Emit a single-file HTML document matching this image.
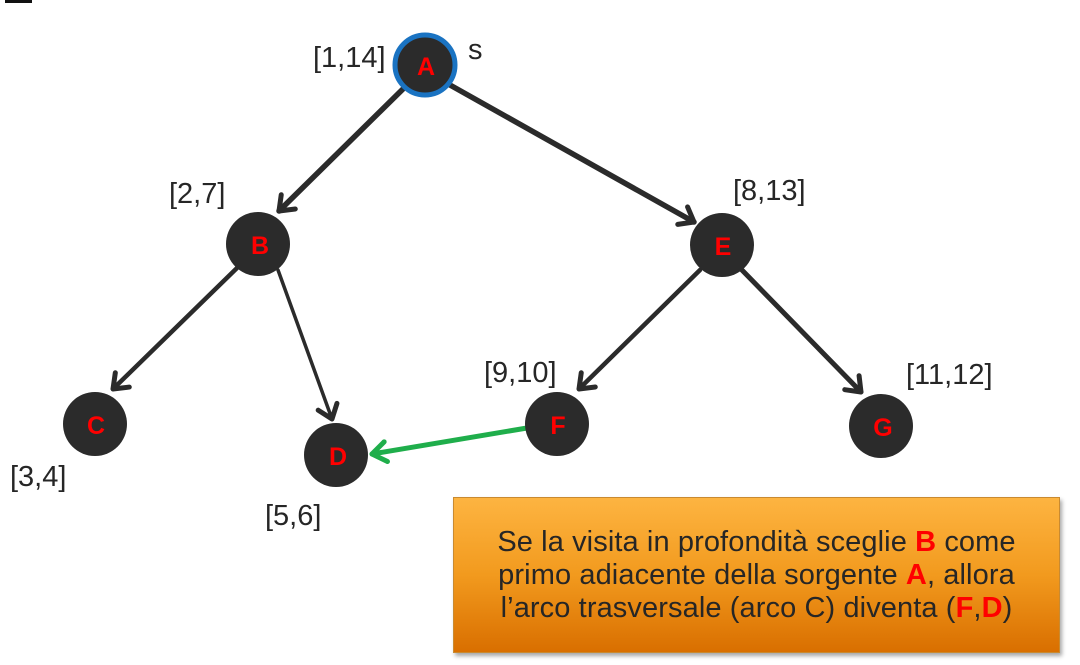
<!DOCTYPE html>
<html><head><meta charset="utf-8"><style>
body{margin:0;width:1080px;height:665px;background:#fff;overflow:hidden;position:relative;font-family:"Liberation Sans",sans-serif}
svg{position:absolute;left:0;top:0}
.box{position:absolute;left:453px;top:497px;width:607px;height:156px;background:linear-gradient(#fdb441,#f29a1e 50%,#d96f00);border:1px solid #c98a30;box-shadow:2px 3px 4px rgba(0,0,0,.35);text-align:center;color:#262626;font-size:29px;line-height:33px;padding-top:28px;box-sizing:border-box;letter-spacing:0.1px}
.r{color:#f00;font-weight:bold}
</style></head><body>
<svg width="1080" height="665" font-family="Liberation Sans, sans-serif">
<defs>
<marker id="ar" viewBox="-20 -20 40 40" refX="0" refY="0" markerWidth="40" markerHeight="40" orient="auto" markerUnits="userSpaceOnUse">
<path d="M-13,-10 L0,0 L-13,10" fill="none" stroke="#2b2b2b" stroke-width="5" stroke-linecap="round" stroke-linejoin="round"/>
</marker>
<marker id="ag" viewBox="-20 -20 40 40" refX="0" refY="0" markerWidth="40" markerHeight="40" orient="auto" markerUnits="userSpaceOnUse">
<path d="M-14,-10 L0,0 L-14,10" fill="none" stroke="#1fae4b" stroke-width="5" stroke-linecap="round" stroke-linejoin="round"/>
</marker>
</defs>
<rect x="5" y="0" width="27" height="3" fill="#111"/>
<g stroke="#2b2b2b" stroke-linecap="round">
<line x1="405" y1="87" x2="279" y2="211" stroke-width="5.5" marker-end="url(#ar)"/>
<line x1="450" y1="85" x2="694" y2="222" stroke-width="5.5" marker-end="url(#ar)"/>
<line x1="237" y1="268" x2="113" y2="389" stroke-width="4.5" marker-end="url(#ar)"/>
<line x1="278" y1="270" x2="332" y2="419" stroke-width="3.5" marker-end="url(#ar)"/>
<line x1="700" y1="270" x2="579" y2="389" stroke-width="4.5" marker-end="url(#ar)"/>
<line x1="740" y1="268" x2="861" y2="392" stroke-width="5" marker-end="url(#ar)"/>
</g>
<line x1="527" y1="428" x2="372" y2="454" stroke="#1fae4b" stroke-width="5" stroke-linecap="round" marker-end="url(#ag)"/>
<g fill="#2b2b2b">
<circle cx="425" cy="65" r="30" stroke="#1a73c2" stroke-width="5"/>
<circle cx="258" cy="244" r="32"/>
<circle cx="95" cy="424" r="32"/>
<circle cx="336" cy="455" r="32"/>
<circle cx="722" cy="245" r="32"/>
<circle cx="557" cy="424" r="32"/>
<circle cx="881" cy="426" r="32"/>
</g>
<g fill="#f00" font-weight="bold" font-size="25" text-anchor="middle">
<text x="426" y="75">A</text><text x="260" y="254">B</text><text x="96" y="434">C</text>
<text x="338" y="465">D</text><text x="723" y="255">E</text><text x="558" y="434">F</text><text x="883" y="436">G</text>
</g>
<g fill="#262626" font-size="29">
<text x="313" y="67">[1,14]</text><text x="468" y="59">s</text>
<text x="169" y="203">[2,7]</text><text x="733" y="200">[8,13]</text>
<text x="484" y="382">[9,10]</text><text x="906" y="384">[11,12]</text>
<text x="10" y="486">[3,4]</text><text x="265" y="525">[5,6]</text>
</g>
</svg>
<div class="box">Se la visita in profondità sceglie <span class="r">B</span> come<br>primo adiacente della sorgente <span class="r">A</span>, allora<br>l’arco trasversale (arco C) diventa (<span class="r">F</span>,<span class="r">D</span>)</div>
</body></html>
